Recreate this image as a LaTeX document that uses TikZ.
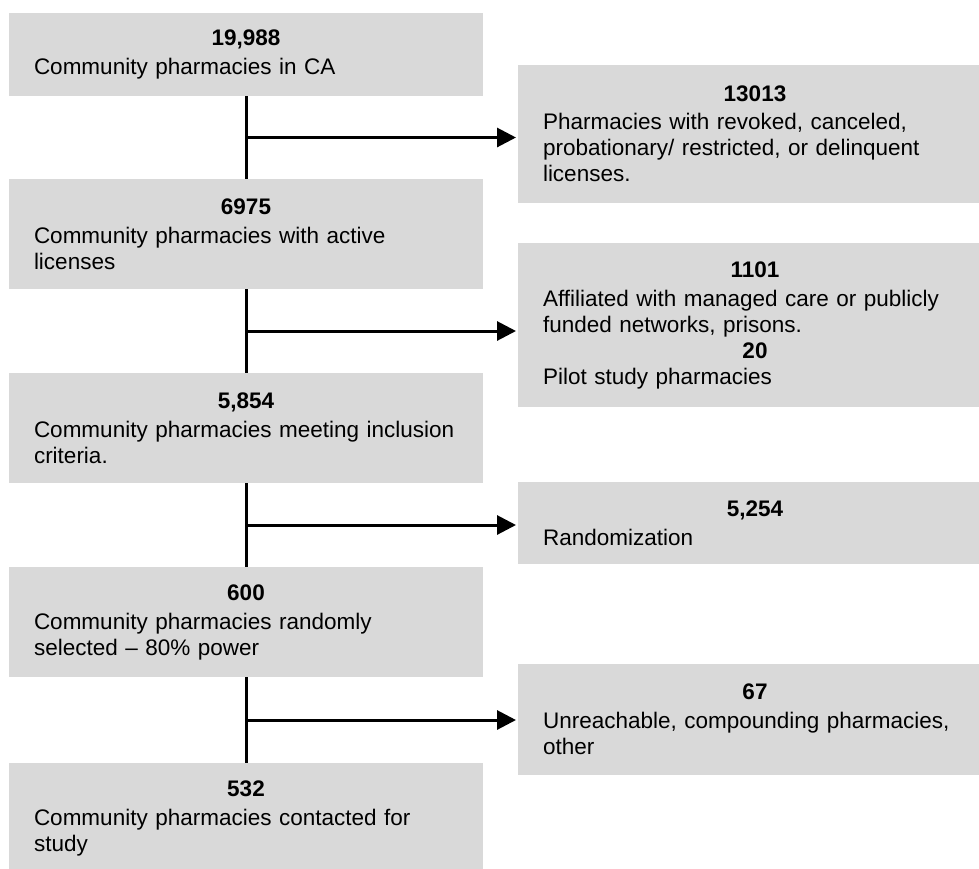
\documentclass[tikz,border=0pt]{standalone}
\usepackage{fontspec}
\setmainfont{Liberation Sans}
\usepackage{xcolor}
\usetikzlibrary{arrows.meta,positioning}
\definecolor{boxgray}{HTML}{D9D9D9}

\begin{document}
\begin{tikzpicture}[x=0.5pt,y=-0.5pt,
	box/.style={fill=boxgray, anchor=north west, minimum width=237pt, inner sep=0pt, outer sep=0pt,
		text width=212pt, align=left, font=\fontsize{11.25}{13}\selectfont},
	link/.style={line width=1.5pt},
	arr/.style={line width=1.5pt, -{Triangle[length=9.5pt,width=9.5pt]}, shorten >=1pt}]
	     \useasboundingbox (0,0) rectangle (979,868);

	     % counts kept
	     \node[box, minimum height=41.5pt] (c1) at (9,13) {\makebox[\linewidth]{\bfseries 19,988}\\[1.5pt]
	     	Community pharmacies in CA};
	     \node[box, minimum height=55pt] (c2) at (9,179) {\makebox[\linewidth]{\bfseries 6975}\\[1.5pt]
	     	Community pharmacies with active\\ licenses};
	     \node[box, minimum height=55pt] (c3) at (9,373) {\makebox[\linewidth]{\bfseries 5,854}\\[1.5pt]
	     	Community pharmacies meeting inclusion\\ criteria.};
	     \node[box, minimum height=55pt] (c4) at (9,567) {\makebox[\linewidth]{\bfseries 600}\\[1.5pt]
	     	Community pharmacies randomly\\ selected -- 80\% power};
	     \node[box, minimum height=55pt] (c5) at (9,763) {\makebox[\linewidth]{\bfseries 532}\\[1.5pt]
	     	Community pharmacies contacted for\\ study};

	     % counts dropped
	     \node[box, minimum height=69pt] (e1) at (518,65) {\makebox[\linewidth]{\bfseries 13013}\\[1pt]
	     	Pharmacies with revoked, canceled,\\ probationary/ restricted, or delinquent\\ licenses.};
	     \node[box, minimum height=82pt] (e2) at (518,243) {\makebox[\linewidth]{\bfseries 1101}\\[1.5pt]
	     	Affiliated with managed care or publicly\\ funded networks, prisons.\\
	     	\makebox[\linewidth]{\bfseries 20}\\
	     	Pilot study pharmacies};
	     \node[box, minimum height=41pt] (e3) at (518,482) {\makebox[\linewidth]{\bfseries 5,254}\\[1.5pt]
	     	Randomization};
	     \node[box, minimum height=55.5pt] (e4) at (518,664) {\makebox[\linewidth]{\bfseries 67}\\[1.5pt]
	     	Unreachable, compounding pharmacies,\\ other};

	     \draw[link] (c1.south) -- coordinate[pos=0.5] (j1) (c2.north);
	     \draw[link] (c2.south) -- coordinate[pos=0.5] (j2) (c3.north);
	     \draw[link] (c3.south) -- coordinate[pos=0.5] (j3) (c4.north);
	     \draw[link] (c4.south) -- coordinate[pos=0.5] (j4) (c5.north);

	     \draw[arr] (j1) -- (j1 -| e1.west);
	     \draw[arr] (j2) -- (j2 -| e2.west);
	     \draw[arr] (j3) -- (j3 -| e3.west);
	     \draw[arr] (j4) -- (j4 -| e4.west);
	   \end{tikzpicture}
\end{document}
